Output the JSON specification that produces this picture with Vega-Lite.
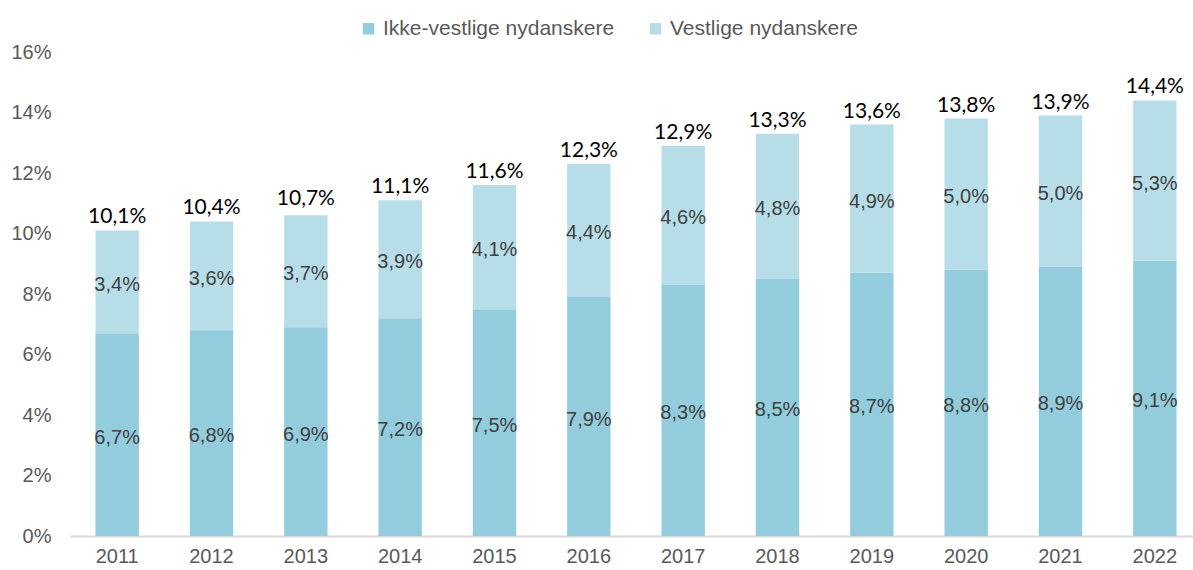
{
  "$schema": "https://vega.github.io/schema/vega-lite/v6.json",
  "width": 1123,
  "height": 484,
  "autosize": {"type": "none"},
  "padding": {"left": 70, "top": 52, "right": 0, "bottom": 34},
  "background": "white",
  "config": {"view": {"stroke": null}, "font": "Liberation Sans", "text": {"font": "Liberation Sans"}, "axis": {"labelFont": "Liberation Sans"}, "legend": {"labelFont": "Liberation Sans"}},
  "data": {"values": [
    {"year": "2011", "ikke": 6.7, "vest": 3.4, "total": 10.1},
    {"year": "2012", "ikke": 6.8, "vest": 3.6, "total": 10.4},
    {"year": "2013", "ikke": 6.9, "vest": 3.7, "total": 10.7},
    {"year": "2014", "ikke": 7.2, "vest": 3.9, "total": 11.1},
    {"year": "2015", "ikke": 7.5, "vest": 4.1, "total": 11.6},
    {"year": "2016", "ikke": 7.9, "vest": 4.4, "total": 12.3},
    {"year": "2017", "ikke": 8.3, "vest": 4.6, "total": 12.9},
    {"year": "2018", "ikke": 8.5, "vest": 4.8, "total": 13.3},
    {"year": "2019", "ikke": 8.7, "vest": 4.9, "total": 13.6},
    {"year": "2020", "ikke": 8.8, "vest": 5.0, "total": 13.8},
    {"year": "2021", "ikke": 8.9, "vest": 5.0, "total": 13.9},
    {"year": "2022", "ikke": 9.1, "vest": 5.3, "total": 14.4}
  ]},
  "encoding": {
    "x": {
      "field": "year", "type": "nominal", "title": null,
      "scale": {"range": [0, 1132], "paddingInner": 0.54, "paddingOuter": 0.27},
      "axis": {"labelAngle": 0, "labelFontSize": 20, "labelColor": "#595959", "ticks": false, "domainColor": "#D9D9D9", "domainWidth": 2, "labelPadding": 10}
    }
  },
  "layer": [
    {
      "transform": [
        {"fold": ["ikke", "vest"], "as": ["key", "value"]},
        {"calculate": "datum.key == 'ikke' ? 'Ikke-vestlige nydanskere' : 'Vestlige nydanskere'", "as": "serie"},
        {"stack": "value", "groupby": ["year"], "sort": [{"field": "serie", "order": "ascending"}], "as": ["v0", "v1"]}
      ],
      "mark": {"type": "bar"},
      "encoding": {
        "y": {"field": "v0", "type": "quantitative", "title": null,
          "scale": {"domain": [0, 16], "nice": false},
          "axis": {"values": [0, 2, 4, 6, 8, 10, 12, 14, 16], "labelExpr": "datum.value + '%'", "labelFontSize": 20, "labelColor": "#595959", "ticks": false, "domain": false, "grid": false, "labelPadding": 19}},
        "y2": {"field": "v1"},
        "color": {"field": "serie", "type": "nominal", "title": null,
          "scale": {"domain": ["Ikke-vestlige nydanskere", "Vestlige nydanskere"], "range": ["#93CCDD", "#B7DEE8"]},
          "legend": {"orient": "none", "legendX": 288, "legendY": -34, "direction": "horizontal", "symbolType": "square", "symbolSize": 130, "symbolStrokeWidth": 0, "labelFontSize": 21, "labelFont": "Liberation Sans", "labelLimit": 500, "labelColor": "#595959", "columnPadding": 30, "labelOffset": 4, "padding": 0}
        }
      }
    },
    {
      "transform": [
        {"fold": ["ikke", "vest"], "as": ["key", "value"]},
        {"calculate": "datum.key == 'ikke' ? 'Ikke-vestlige nydanskere' : 'Vestlige nydanskere'", "as": "serie"},
        {"stack": "value", "groupby": ["year"], "sort": [{"field": "serie", "order": "ascending"}], "as": ["v0", "v1"]},
        {"calculate": "(datum.v0 + datum.v1) / 2", "as": "mid"},
        {"calculate": "replace(format(datum.value, '.1f'), '.', ',') + '%'", "as": "lbl"}
      ],
      "mark": {"type": "text", "fontSize": 20, "font": "Liberation Sans", "color": "#404040", "baseline": "middle", "dy": 3},
      "encoding": {
        "y": {"field": "mid", "type": "quantitative"},
        "text": {"field": "lbl"}
      }
    },
    {
      "transform": [
        {"calculate": "replace(format(datum.total, '.1f'), '.', ',') + '%'", "as": "tl"}
      ],
      "mark": {"type": "text", "fontSize": 21, "font": "Lato", "color": "#000000", "baseline": "alphabetic", "dy": -7},
      "encoding": {
        "y": {"field": "total", "type": "quantitative"},
        "text": {"field": "tl"}
      }
    }
  ]
}
